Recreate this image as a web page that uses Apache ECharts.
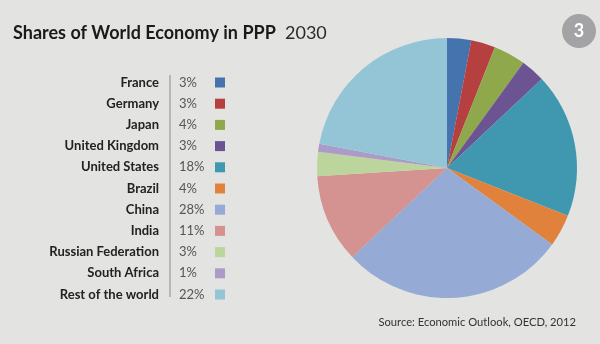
<!DOCTYPE html>
<html>
<head>
<meta charset="utf-8">
<script src="https://cdn.jsdelivr.net/npm/echarts@6/dist/echarts.min.js"></script>
<style>
html,body{margin:0;padding:0;background:#e3e3e2;}
#c{width:600px;height:344px;}
</style>
</head>
<body>
<div id="c"></div>
<script>
const countries = ['France','Germany','Japan','United Kingdom','United States','Brazil','China','India','Russian Federation','South Africa','Rest of the world'];
const shares = [3,3,4,3,18,4,28,11,3,1,22];
const colors = ['#4473ae','#b6403f','#8ea84b','#6c5493','#3f98b0','#e0823c','#95aad4','#d49291','#bcd59c','#aa9bc9','#94c5d6'];
const titleText = 'Shares of World Economy in PPP';
const yearText = '2030';
const sourceText = 'Source: Economic Outlook, OECD, 2012';
const badgeText = '3';

const FONT = 'Lato';
const shareMap = {};
countries.forEach((c,i)=>shareMap[c]=shares[i]);

const chart = echarts.init(document.getElementById('c'), null, {renderer:'canvas'});
chart.setOption({
  backgroundColor:'#e3e3e2',
  animation:false,
  color: colors,
  title:{
    left:8, top:19,
    text:'{b|'+titleText+'}{r|  '+yearText+'}',
    textStyle:{
      rich:{
        b:{fontFamily:FONT,fontWeight:'bold',fontSize:18,color:'#1a1a1a'},
        r:{fontFamily:FONT,fontWeight:'normal',fontSize:18,color:'#2a2a2a'}
      }
    }
  },
  legend:[{
    orient:'vertical',
    left:9, top:75.5, padding:0,
    align:'right',
    itemWidth:0, itemHeight:14,
    itemGap:7.2,
    icon:'rect',
    itemStyle:{opacity:0},
    selectedMode:false,
    data: countries,
    formatter: function(name){ return '{n|'+name+'}'; },
    textStyle:{
      lineHeight:14,
      rich:{
        n:{width:150,align:'right',fontFamily:FONT,fontWeight:'bold',fontSize:13,color:'#222',lineHeight:14}
      }
    }
  },{
    orient:'vertical',
    left:179, top:75.5, padding:0,
    align:'right',
    itemWidth:10, itemHeight:10,
    itemGap:7.2,
    icon:'rect',
    selectedMode:false,
    data: countries,
    formatter: function(name){ return '{p|'+shareMap[name]+'%}'; },
    textStyle:{
      lineHeight:14,
      rich:{
        p:{width:31,align:'left',fontFamily:FONT,fontSize:13,color:'#555',lineHeight:14}
      }
    }
  }],
  graphic:[
    {type:'line',shape:{x1:170,y1:75,x2:170,y2:297},style:{stroke:'#a8a8a8',lineWidth:1.5}},
    {type:'circle',shape:{cx:579,cy:31,r:17},style:{fill:'#a3a3a5'}},
    {type:'text',x:579,y:31,style:{text:badgeText,fill:'#fff',font:'bold 18px '+FONT,textAlign:'center',textVerticalAlign:'middle'}},
    {type:'text',right:24,top:317,style:{text:sourceText,fill:'#333',font:'11.2px '+FONT}}
  ],
  series:[{
    type:'pie',
    center:[447,168],
    radius:[0,130],
    startAngle:90,
    clockwise:true,
    label:{show:false},
    labelLine:{show:false},
    itemStyle:{borderWidth:0},
    emphasis:{disabled:true},
    data: countries.map((c,i)=>({name:c,value:shares[i]}))
  }]
});
</script>
</body>
</html>
